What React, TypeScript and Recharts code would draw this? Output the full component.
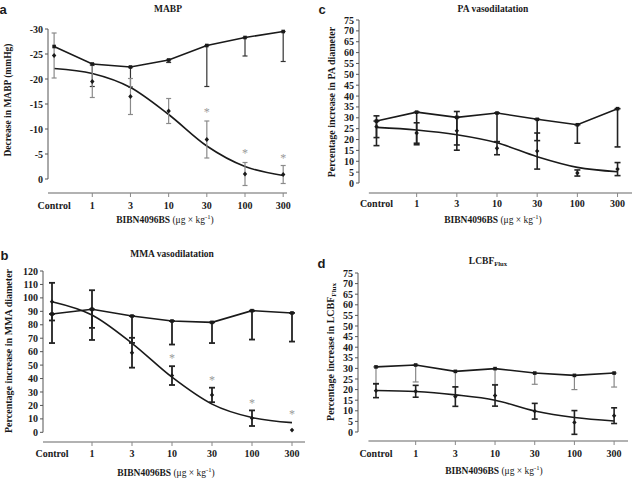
import React from "react";
import { ComposedChart, Line, XAxis, YAxis, ErrorBar, ReferenceLine } from "recharts";

const doses = ["Control", "1", "3", "10", "30", "100", "300"];
const doseIndex = [0, 1, 2, 3, 4, 5, 6];

// a: MABP, decrease in mmHg (negative values, axis reversed)
const mabpVehicle = [-26.5, -23.0, -22.4, -23.8, -26.7, -28.3, -29.5];
const mabpVehicleSd = [null, 4.5, 4.0, 0.5, 8.2, 3.7, 6.0];
const mabpFit = [-22.1, -21.1, -18.3, -12.9, -6.6, -2.5, -0.7];
const mabpDrug = [-24.7, -19.5, -16.5, -13.6, -7.9, -1.0, -0.9];
const mabpDrugSd = [4.5, 3.2, 3.6, 2.5, 3.7, 2.3, 1.8];
const mabpStars = [null, null, null, null, -13.7, -5.5, -4.5];
const mabpTicks = [-30, -25, -20, -15, -10, -5, 0];

// b: MMA vasodilatation, % increase in diameter
const mmaVehicle = [88.0, 91.5, 86.5, 82.8, 81.8, 90.5, 88.8];
const mmaVehicleSd = [21.6, 22.8, 20.0, 17.5, 15.4, 21.5, 21.3];
const mmaFit = [97.2, 87.3, 66.2, 41.0, 21.0, 11.0, 7.2];
const mmaDrug = [97.2, 91.7, 59.2, 42.2, 27.8, 10.5, 1.7];
const mmaDrugSd = [14.0, 14.0, 11.1, 7.0, 5.4, 5.8, null];
const mmaStars = [null, null, null, 55.8, 39.7, 22.8, 14.4];
const mmaTicks = [0, 10, 20, 30, 40, 50, 60, 70, 80, 90, 100, 110, 120];

// c: PA vasodilatation, % increase in diameter
const paVehicle = [28.5, 32.6, 30.2, 32.2, 29.3, 26.8, 34.2];
const paVehicleSd = [11.3, 15.0, 12.7, 13.2, 9.8, 8.5, 17.6];
const paFit = [25.6, 24.4, 22.2, 18.5, 12.1, 7.2, 5.2];
const paDrug = [25.9, 23.0, 24.0, 16.0, 14.7, 4.6, 6.4];
const paDrugSd = [5.0, 4.7, 8.9, 3.0, 8.3, 1.4, 3.0];
const paStars = [null, null, null, null, null, null, null];

// d: LCBF flux, % increase
const lcbfVehicle = [30.7, 31.6, 28.6, 29.9, 27.8, 26.7, 27.8];
const lcbfVehicleSd = [8.2, 8.0, 7.4, 7.5, 5.3, 6.7, 6.6];
const lcbfFit = [19.6, 19.1, 17.5, 15.0, 9.9, 6.8, 5.2];
const lcbfDrug = [19.5, 19.2, 16.7, 17.2, 9.8, 4.5, 7.7];
const lcbfDrugSd = [3.3, 2.8, 4.6, 5.0, 3.7, 5.6, 3.7];
const lcbfStars = [null, null, null, null, null, null, null];

const pctTicks = [0, 5, 10, 15, 20, 25, 30, 35, 40, 45, 50, 55, 60, 65, 70, 75];

const serif = "'Liberation Serif', 'Times New Roman', serif";
const sans = "'Liberation Sans', Arial, sans-serif";
const ink = "#1a1a1a";

// vehicle bars only hang one way (down on screen)
function buildRows(vehicle, vehicleSd, fit, drug, drugSd, stars, reversed) {
  return doses.map((d, i) => ({
    x: i,
    vehicle: vehicle[i],
    vehicleErr: vehicleSd[i] == null ? null : reversed ? [0, vehicleSd[i]] : [vehicleSd[i], 0],
    fit: fit[i],
    drug: drug[i],
    drugErr: drugSd[i],
    star: stars[i],
  }));
}

const doseTick = (gap: number) => (tp: any) => {
  const i = tp.payload.value;
  return (
    <g key={`t-${i}`}>
      {i > 0 && <line x1={tp.x} x2={tp.x} y1={tp.y} y2={tp.y + 4} stroke="#888" />}
      <text
        x={tp.x}
        y={tp.y + gap}
        textAnchor="middle"
        dominantBaseline="central"
        fontSize={10}
        fontWeight={700}
        fontFamily={serif}
        fill={ink}
      >
        {doses[i]}
      </text>
    </g>
  );
};

const squareDot = (p: any) =>
  p.value == null || p.cy == null ? (
    <g key={`s-${p.index}`} />
  ) : (
    <rect key={`s-${p.index}`} x={p.cx - 1.8} y={p.cy - 1.8} width={3.6} height={3.6} fill={ink} />
  );

const diamondDot = (p: any) =>
  p.value == null || p.cy == null ? (
    <g key={`d-${p.index}`} />
  ) : (
    <path
      key={`d-${p.index}`}
      d={`M${p.cx},${p.cy - 2.4}L${p.cx + 2.2},${p.cy}L${p.cx},${p.cy + 2.4}L${p.cx - 2.2},${p.cy}Z`}
      fill={ink}
    />
  );

const starDot = (p: any) =>
  p.value == null || p.cy == null ? (
    <g key={`a-${p.index}`} />
  ) : (
    <text key={`a-${p.index}`} x={p.cx} y={p.cy + 5} textAnchor="middle" fontSize={12} fill="#999" fontFamily={serif}>
      *
    </text>
  );

function Panel({ rows, plot, xDomain, yDomain, yTicks, reversed, yTop, yBottom, xStart, gap, vBar, dBar }: any) {
  const YW = 32;
  const XH = 24;
  const m = { top: 8, right: 6, bottom: 2, left: 2 };
  const width = plot.right - plot.left + YW + m.left + m.right;
  const height = plot.bottom - plot.top + XH + m.top + m.bottom;
  return (
    <div style={{ position: "absolute", left: plot.left - YW - m.left, top: plot.top - m.top }}>
      <ComposedChart width={width} height={height} data={rows} margin={m}>
        <XAxis
          type="number"
          dataKey="x"
          domain={xDomain}
          ticks={doseIndex}
          interval={0}
          allowDataOverflow
          axisLine={false}
          tickLine={false}
          tickSize={0}
          tickMargin={0}
          height={XH}
          tick={doseTick(gap)}
        />
        <YAxis
          type="number"
          width={YW}
          domain={yDomain}
          ticks={yTicks}
          interval={0}
          reversed={reversed}
          allowDataOverflow
          axisLine={false}
          tickSize={3}
          tickMargin={2}
          tickLine={{ stroke: "#555" }}
          tick={{ fontSize: 10, fontWeight: 700, fontFamily: serif, fill: ink }}
        />
        <ReferenceLine
          segment={[{ x: xDomain[0], y: yTop }, { x: xDomain[0], y: 0 }]}
          stroke="#555"
          ifOverflow="visible"
        />
        <ReferenceLine
          segment={[{ x: xStart, y: yBottom }, { x: xDomain[1], y: yBottom }]}
          stroke="#999"
          strokeWidth={1.5}
          ifOverflow="visible"
        />
        <Line dataKey="fit" type="monotone" stroke={ink} strokeWidth={1.6} dot={false} isAnimationActive={false} />
        <Line dataKey="vehicle" type="linear" stroke={ink} strokeWidth={1.6} dot={squareDot} isAnimationActive={false}>
          <ErrorBar dataKey="vehicleErr" direction="y" width={vBar.cap} stroke={vBar.color} strokeWidth={vBar.w} isAnimationActive={false} />
        </Line>
        <Line dataKey="drug" type="linear" stroke="none" dot={diamondDot} isAnimationActive={false}>
          <ErrorBar dataKey="drugErr" direction="y" width={dBar.cap} stroke={dBar.color} strokeWidth={dBar.w} isAnimationActive={false} />
        </Line>
        <Line dataKey="star" type="linear" stroke="none" dot={starDot} isAnimationActive={false} />
      </ComposedChart>
    </div>
  );
}

const Txt = ({ x, y, size = 9.5, weight = 700, family = serif, rotate = false, children }: any) => (
  <div
    style={{
      position: "absolute",
      left: x,
      top: y,
      transform: `translate(-50%, -50%)${rotate ? " rotate(-90deg)" : ""}`,
      whiteSpace: "nowrap",
      fontSize: size,
      fontWeight: weight,
      fontFamily: family,
      color: ink,
      lineHeight: 1,
    }}
  >
    {children}
  </div>
);

const DoseLabel = () => (
  <>
    <span style={{ fontWeight: 700 }}>BIBN4096BS</span>
    <span style={{ fontWeight: 400 }}>
      {" "}(μg × kg<span style={{ fontSize: "0.7em", verticalAlign: "0.5em" }}>-1</span>)
    </span>
  </>
);

export default function App() {
  return (
    <div style={{ position: "absolute", left: 0, top: 0, width: 632, height: 478, overflow: "hidden", background: "#fff" }}>
      <Panel
        rows={buildRows(mabpVehicle, mabpVehicleSd, mabpFit, mabpDrug, mabpDrugSd, mabpStars, true)}
        plot={{ left: 48, top: 29, right: 287, bottom: 193 }}
        xDomain={[-0.16, 6.1]}
        yDomain={[-30, 2.8]}
        yTicks={mabpTicks}
        reversed
        yTop={-30}
        yBottom={2.8}
        xStart={-0.16}
        gap={12}
        vBar={{ cap: 2.5, color: "#333", w: 1.2 }}
        dBar={{ cap: 2.5, color: "#8a8a8a", w: 1.2 }}
      />
      <Panel
        rows={buildRows(paVehicle, paVehicleSd, paFit, paDrug, paDrugSd, paStars, false)}
        plot={{ left: 359, top: 20, right: 632, bottom: 193 }}
        xDomain={[-0.435, 6.36]}
        yDomain={[-4.6, 75]}
        yTicks={pctTicks}
        reversed={false}
        yTop={75}
        yBottom={-4.6}
        xStart={-0.19}
        gap={10}
        vBar={{ cap: 3, color: "#222", w: 1.6 }}
        dBar={{ cap: 3, color: "#222", w: 1.6 }}
      />
      <Panel
        rows={buildRows(mmaVehicle, mmaVehicleSd, mmaFit, mmaDrug, mmaDrugSd, mmaStars, false)}
        plot={{ left: 43, top: 270.7, right: 305, bottom: 441.7 }}
        xDomain={[-0.225, 6.325]}
        yDomain={[-7.2, 120]}
        yTicks={mmaTicks}
        reversed={false}
        yTop={120}
        yBottom={-7.2}
        xStart={-0.225}
        gap={11.5}
        vBar={{ cap: 3, color: "#222", w: 1.8 }}
        dBar={{ cap: 3, color: "#222", w: 1.8 }}
      />
      <Panel
        rows={buildRows(lcbfVehicle, lcbfVehicleSd, lcbfFit, lcbfDrug, lcbfDrugSd, lcbfStars, false)}
        plot={{ left: 358, top: 272.7, right: 628, bottom: 440.7 }}
        xDomain={[-0.453, 6.35]}
        yDomain={[-4.25, 75]}
        yTicks={pctTicks}
        reversed={false}
        yTop={75}
        yBottom={-4.25}
        xStart={-0.19}
        gap={12}
        vBar={{ cap: 3, color: "#888", w: 1.2 }}
        dBar={{ cap: 3, color: "#222", w: 1.6 }}
      />

      <Txt x={3} y={8.5} size={13} family={sans}>a</Txt>
      <Txt x={322} y={9} size={13} family={sans}>c</Txt>
      <Txt x={4.5} y={254.5} size={13} family={sans}>b</Txt>
      <Txt x={321.5} y={262.5} size={13} family={sans}>d</Txt>

      <Txt x={168} y={9.5}>MABP</Txt>
      <Txt x={493} y={10.3}>PA vasodilatation</Txt>
      <Txt x={172} y={255}>MMA vasodilatation</Txt>
      <Txt x={488} y={262}>
        LCBF<span style={{ fontSize: "0.7em", verticalAlign: "-0.35em" }}>Flux</span>
      </Txt>

      <Txt x={165} y={220}><DoseLabel /></Txt>
      <Txt x={493} y={220}><DoseLabel /></Txt>
      <Txt x={166} y={473}><DoseLabel /></Txt>
      <Txt x={494} y={471}><DoseLabel /></Txt>

      <Txt x={9} y={100} rotate>Decrease in MABP (mmHg)</Txt>
      <Txt x={332} y={101.5} size={10} rotate>Percentage increase in PA diameter</Txt>
      <Txt x={9} y={351} size={10} rotate>Percentage increase in MMA diameter</Txt>
      <Txt x={332} y={351.5} size={10} rotate>
        Percentage increase in LCBF<span style={{ fontSize: "0.7em", verticalAlign: "-0.35em" }}>Flux</span>
      </Txt>
    </div>
  );
}
